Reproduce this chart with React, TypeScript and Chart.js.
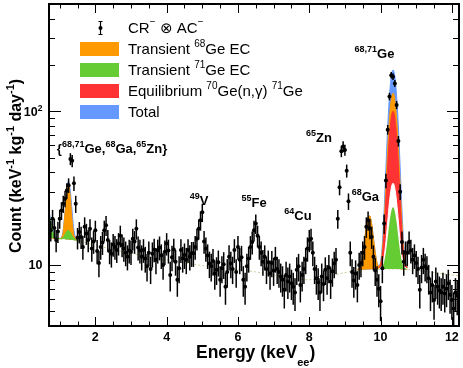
import React, { useEffect, useRef } from "react";
import { Chart, registerables } from "chart.js";

Chart.register(...registerables);

// ---------------- data ----------------
// histogram bins (keV): centre of first bin and bin width
const BIN_START = 0.75;
const BIN_WIDTH = 0.05;

// counts (keV^-1 kg^-1 day^-1), one value per bin, 0.75 ... 12.15 keV
const COUNTS = [
  16.8, 20, 17.4, 14.5, 16.5, 20, 22.6, 25, 27, 30.5,
  33, 49, 47.6, 34, 25, 15, 16.4, 15.2, 13.1, 17.7,
  16, 14.5, 17.2, 12.8, 14.2, 16.8, 12.3, 10.3, 13.1, 14,
  16.8, 18.1, 14.5, 12.3, 11.8, 13.6, 13.1, 12.5, 13.8, 15.5,
  13.5, 12.8, 12, 11.3, 12.4, 12.2, 14.8, 14.2, 17.2, 13,
  12.4, 11.3, 12.5, 11, 9.8, 12, 9.4, 11.8, 12.6, 10.8,
  12.4, 13, 11.5, 10, 12.2, 13.8, 12.4, 8.6, 11.2, 12.6,
  10.5, 8, 9.5, 12.5, 11, 11.6, 10.8, 12.5, 11.3, 11.9,
  11.9, 13.1, 14.8, 17.2, 19.5, 22, 14.2, 12.8, 11.5, 10.2,
  9.8, 10.6, 8.8, 9.3, 10.4, 8, 9.5, 10.1, 7.2, 9,
  11.3, 10.2, 9.4, 12.5, 9, 13.1, 10.8, 11.2, 8, 7.2,
  9.8, 11, 13.1, 14.1, 16.8, 18.6, 15.5, 13.1, 12, 10.5,
  11.3, 9.4, 10.4, 8.8, 10.3, 9.2, 11, 9.4, 9, 8.4,
  8, 6.9, 8.6, 7.8, 8.4, 7.6, 7.2, 6.6, 9.3, 9.8,
  7.4, 8.6, 9.4, 10.8, 12.8, 14.5, 14.8, 12, 9.4, 8.2,
  7.7, 6.6, 8.4, 7.5, 9.3, 8.2, 9.6, 7.8, 9.1, 10.2,
  10.8, 20, 32, 55, 59, 56, 41, 26, 12, 9,
  7.9, 8.8, 7.4, 10, 10.3, 12, 13.1, 17.7, 19.5, 17.3,
  15.2, 11.3, 9.2, 8, 7, 5.8, 9.5, 18.6, 35.4, 76,
  125, 172, 168, 152, 110, 64, 30, 14.1, 10.5, 12,
  12, 14.1, 12.4, 10.8, 11.5, 10.3, 9.4, 6.9, 9.6, 10.8,
  9.8, 9.5, 8.2, 6.6, 7.4, 5.9, 7.8, 7.2, 6.8, 6.6,
  7.2, 6.5, 7.0, 7.6, 6.4, 5.9, 5.2, 6.6, 6.3,
];

// statistical error of each bin
const ERRORS = [
  2.6, 2.8, 2.6, 2.4, 2.6, 2.8, 3.0, 3.2, 3.3, 3.5,
  3.6, 4.4, 4.4, 3.7, 3.2, 2.4, 2.6, 2.5, 2.3, 2.7,
  2.5, 2.4, 2.6, 2.3, 2.4, 2.6, 2.2, 2.0, 2.3, 2.4,
  2.6, 2.7, 2.4, 2.2, 2.2, 2.3, 2.3, 2.2, 2.3, 2.5,
  2.3, 2.3, 2.2, 2.1, 2.2, 2.2, 2.4, 2.4, 2.6, 2.3,
  2.2, 2.1, 2.2, 2.1, 2.0, 2.2, 1.9, 2.2, 2.2, 2.1,
  2.2, 2.3, 2.1, 2.0, 2.2, 2.3, 2.2, 1.9, 2.1, 2.2,
  2.0, 1.8, 1.9, 2.2, 2.1, 2.2, 2.1, 2.2, 2.1, 2.2,
  2.2, 2.3, 2.4, 2.6, 2.8, 3.0, 2.4, 2.3, 2.1, 2.0,
  2.0, 2.1, 1.9, 1.9, 2.0, 1.8, 1.9, 2.0, 1.7, 1.9,
  2.1, 2.0, 1.9, 2.2, 1.9, 2.3, 2.1, 2.1, 1.8, 1.7,
  2.0, 2.1, 2.3, 2.4, 2.6, 2.7, 2.5, 2.3, 2.2, 2.0,
  2.1, 1.9, 2.0, 1.9, 2.0, 1.9, 2.1, 1.9, 1.9, 1.8,
  1.8, 1.7, 1.9, 1.8, 1.8, 1.7, 1.7, 1.6, 1.9, 2.0,
  1.7, 1.9, 1.9, 2.1, 2.3, 2.4, 2.4, 2.2, 1.9, 1.8,
  1.8, 1.6, 1.8, 1.7, 1.9, 1.8, 2.0, 1.8, 1.9, 2.0,
  2.1, 2.8, 3.6, 4.7, 4.9, 4.7, 4.0, 3.2, 2.2, 1.9,
  1.8, 1.9, 1.7, 2.0, 2.0, 2.2, 2.3, 2.7, 2.8, 2.6,
  2.5, 2.1, 1.9, 1.8, 1.7, 1.5, 1.9, 2.7, 3.8, 5.5,
  7.1, 8.3, 8.2, 7.8, 6.6, 5.1, 3.5, 2.4, 2.0, 2.2,
  2.2, 2.4, 2.2, 2.1, 2.1, 2.0, 1.9, 1.7, 2.0, 2.1,
  2.0, 1.9, 1.8, 1.6, 1.7, 1.5, 1.8, 1.7, 1.6, 1.6,
  1.7, 1.6, 1.7, 1.7, 1.6, 1.5, 1.4, 1.6, 1.6,
];

// fitted background (dotted line)
const BG_E = [0.7, 1.0, 1.5, 2.0, 2.5, 3.0, 3.5, 4.0, 4.5, 5.0, 5.5, 6.0, 6.5, 7.0, 7.5, 8.0, 8.5, 9.0, 9.5, 10.0, 10.5, 11.0, 11.5, 12.0, 12.2];
const BG_V = [15.0, 14.8, 14.4, 13.4, 12.6, 11.9, 11.3, 10.8, 10.3, 9.9, 9.6, 9.3, 9.0, 8.6, 8.2, 8.0, 8.4, 8.9, 9.3, 9.4, 9.4, 9.2, 8.9, 8.6, 8.5];

// L-shell region fit curves
const L_E = [0.70, 0.75, 0.80, 0.85, 0.90, 0.95, 1.00, 1.04, 1.09, 1.14, 1.19, 1.24, 1.29, 1.34, 1.39, 1.44, 1.50, 1.55];
const BLUE_L = [22.5, 19.5, 17.2, 15.8, 15.0, 14.9, 14.9, 15.0, 16.4, 21.0, 29.5, 35.0, 31.5, 23.5, 17.5, 15.2, 14.5, 14.3];
const ORANGE_L = [15.0, 15.0, 14.9, 14.9, 14.9, 14.9, 14.8, 14.9, 16.0, 20.5, 28.8, 33.7, 28.8, 20.5, 16.0, 14.9, 14.4, 14.3];
const GREEN_L = [21.5, 18.8, 16.7, 15.5, 14.9, 14.9, 14.8, 14.8, 15.0, 15.6, 16.4, 16.8, 16.4, 15.6, 15.0, 14.6, 14.4, 14.3];

// K-shell region fit curves (68Ga + 68,71Ge)
const K_E = [9.35, 9.40, 9.45, 9.50, 9.55, 9.60, 9.65, 9.70, 9.75, 9.80, 9.85, 9.90, 9.95, 10.00, 10.05, 10.10, 10.15, 10.20, 10.25, 10.30, 10.35, 10.40, 10.45, 10.50, 10.55, 10.60, 10.65, 10.70, 10.75];
const BLUE_K = [9.35, 9.53, 10.1, 11.6, 14.3, 17.8, 20.5, 20.8, 18.5, 15.0, 12.1, 10.4, 9.9, 10.5, 13.7, 22.8, 43.1, 79.2, 126.1, 168.7, 186, 168.7, 126.1, 79.2, 43.1, 22.8, 13.7, 10.5, 9.6];
const ORANGE_K = [9.35, 9.53, 10.1, 11.6, 14.3, 17.8, 20.5, 20.8, 18.5, 15.0, 12.1, 10.3, 9.8, 10.2, 12.4, 18.6, 32.6, 57.4, 89.8, 119.1, 131, 119.1, 89.8, 57.4, 32.6, 18.6, 12.4, 10.2, 9.6];
const KC_E = [9.95, 10.00, 10.05, 10.10, 10.15, 10.20, 10.25, 10.30, 10.35, 10.40, 10.45, 10.50, 10.55, 10.60, 10.65, 10.70, 10.75];
const RED_K = [9.6, 10.0, 11.6, 16.3, 26.7, 45.2, 69.3, 91.1, 100, 91.1, 69.3, 45.2, 26.7, 16.3, 11.6, 10.0, 9.6];
const WHITE_K = [9.4, 9.6, 10.0, 11.3, 14.1, 19.1, 25.7, 31.6, 34.0, 31.6, 25.7, 19.1, 14.1, 11.3, 10.0, 9.6, 9.4];
const GREEN_K = [9.4, 9.5, 9.7, 10.5, 12.1, 15.0, 18.9, 22.3, 23.7, 22.3, 18.9, 15.0, 12.1, 10.5, 9.7, 9.5, 9.4];

// axis ticks
const X_MAJOR = [2, 4, 6, 8, 10, 12];
const X_MINOR = [1, 1.5, 2.5, 3, 3.5, 4.5, 5, 5.5, 6.5, 7, 7.5, 8.5, 9, 9.5, 10.5, 11, 11.5];
const X_LABELS = ["2", "4", "6", "8", "10", "12"];
const Y_MAJOR = [10, 100];
const Y_MINOR = [5, 6, 7, 8, 9, 20, 30, 40, 50, 60, 70, 80, 90, 200, 300, 400];

type Part = { t: string; sup?: boolean; sub?: boolean };

const Y_LABELS: { v: number; parts: Part[] }[] = [
  { v: 10, parts: [{ t: "10" }] },
  { v: 100, parts: [{ t: "10" }, { t: "2", sup: true }] },
];

// peak labels, anchored (left, baseline) in data coordinates
const ANNOTATIONS: { x: number; y: number; parts: Part[] }[] = [
  { x: 0.92, y: 53.6, parts: [{ t: "{" }, { t: "68,71", sup: true }, { t: "Ge," }, { t: "68", sup: true }, { t: "Ga," }, { t: "65", sup: true }, { t: "Zn}" }] },
  { x: 4.65, y: 24.4, parts: [{ t: "49", sup: true }, { t: "V" }] },
  { x: 6.1, y: 24.0, parts: [{ t: "55", sup: true }, { t: "Fe" }] },
  { x: 7.3, y: 19.5, parts: [{ t: "64", sup: true }, { t: "Cu" }] },
  { x: 7.91, y: 63.1, parts: [{ t: "65", sup: true }, { t: "Zn" }] },
  { x: 9.19, y: 25.9, parts: [{ t: "68", sup: true }, { t: "Ga" }] },
  { x: 9.27, y: 223, parts: [{ t: "68,71", sup: true }, { t: "Ge" }] },
];

const ORANGE = "#ff9900";
const GREEN = "#66cc33";
const RED = "#ff3333";
const BLUE = "#6699ff";
const WHITE = "#ffffff";

const LEGEND: { kind: "data" | "fill"; color?: string; parts: Part[] }[] = [
  { kind: "data", parts: [{ t: "CR" }, { t: "\u2212", sup: true }, { t: " \u2297 AC" }, { t: "\u2212", sup: true }] },
  { kind: "fill", color: ORANGE, parts: [{ t: "Transient " }, { t: "68", sup: true }, { t: "Ge EC" }] },
  { kind: "fill", color: GREEN, parts: [{ t: "Transient " }, { t: "71", sup: true }, { t: "Ge EC" }] },
  { kind: "fill", color: RED, parts: [{ t: "Equilibrium " }, { t: "70", sup: true }, { t: "Ge(n,\u03b3) " }, { t: "71", sup: true }, { t: "Ge" }] },
  { kind: "fill", color: BLUE, parts: [{ t: "Total" }] },
];

// ---------------- helpers ----------------
const FAMILY = '"Liberation Sans", Arial, Helvetica, sans-serif';
const fontOf = (size: number, bold: boolean) => `${bold ? "bold " : ""}${size}px ${FAMILY}`;

type RichOpts = { size: number; small: number; bold: boolean; align?: "left" | "right" | "center"; raise: number; drop?: number };

function richWidth(ctx: CanvasRenderingContext2D, parts: Part[], o: RichOpts) {
  let w = 0;
  for (const p of parts) {
    ctx.font = fontOf(p.sup || p.sub ? o.small : o.size, o.bold);
    w += ctx.measureText(p.t).width;
  }
  return w;
}

function drawRich(ctx: CanvasRenderingContext2D, parts: Part[], x: number, y: number, o: RichOpts) {
  const w = richWidth(ctx, parts, o);
  let cx = o.align === "right" ? x - w : o.align === "center" ? x - w / 2 : x;
  ctx.textAlign = "left";
  ctx.textBaseline = "alphabetic";
  for (const p of parts) {
    ctx.font = fontOf(p.sup || p.sub ? o.small : o.size, o.bold);
    const dy = p.sup ? -o.raise : p.sub ? o.drop || 0 : 0;
    ctx.fillText(p.t, cx, y + dy);
    cx += ctx.measureText(p.t).width;
  }
}

const pts = (xs: number[], ys: number[]) => xs.map((x, i) => ({ x, y: ys[i] }));

const errorBarPlugin = {
  id: "errorBars",
  afterDatasetsDraw(chart: any) {
    const { ctx, chartArea: ca, scales } = chart;
    const xs = scales.x, ys = scales.y;
    ctx.save();
    ctx.beginPath();
    ctx.rect(ca.left, ca.top, ca.right - ca.left, ca.bottom - ca.top);
    ctx.clip();
    ctx.strokeStyle = "#000";
    ctx.lineWidth = 1.5;
    COUNTS.forEach((v, i) => {
      const e = ERRORS[i];
      const E = BIN_START + i * BIN_WIDTH;
      const px = xs.getPixelForValue(E);
      const y1 = ys.getPixelForValue(v + e);
      const y2 = ys.getPixelForValue(Math.max(v - e, 0.01));
      ctx.beginPath();
      ctx.moveTo(px, y1);
      ctx.lineTo(px, y2);
      ctx.stroke();
      const xa = xs.getPixelForValue(E - BIN_WIDTH / 2);
      const xb = xs.getPixelForValue(E + BIN_WIDTH / 2);
      const py = ys.getPixelForValue(v);
      ctx.beginPath();
      ctx.moveTo(xa, py);
      ctx.lineTo(xb, py);
      ctx.stroke();
    });
    ctx.restore();
  },
};

const decorPlugin = {
  id: "decor",
  afterDraw(chart: any) {
    const { ctx, chartArea: ca, scales } = chart;
    const xs = scales.x, ys = scales.y;
    ctx.save();
    ctx.fillStyle = "#000";
    ctx.strokeStyle = "#000";

    // peak annotations
    for (const a of ANNOTATIONS) {
      drawRich(ctx, a.parts, xs.getPixelForValue(a.x), ys.getPixelForValue(a.y), { size: 13, small: 9, bold: true, raise: 6 });
    }

    // legend
    const lx0 = 80, lx1 = 119, tx = 128;
    LEGEND.forEach((it, i) => {
      const cy = 28 + 21 * i;
      if (it.kind === "fill") {
        ctx.fillStyle = it.color as string;
        ctx.fillRect(lx0, cy - 7, lx1 - lx0, 14);
      } else {
        const mx = 100;
        ctx.lineWidth = 1.2;
        ctx.beginPath();
        ctx.moveTo(mx + 0.5, cy - 6.5);
        ctx.lineTo(mx + 0.5, cy + 6.5);
        ctx.moveTo(mx - 1.5, cy - 6.5);
        ctx.lineTo(mx + 2.5, cy - 6.5);
        ctx.moveTo(mx - 1.5, cy + 6.5);
        ctx.lineTo(mx + 2.5, cy + 6.5);
        ctx.stroke();
        ctx.beginPath();
        ctx.arc(mx + 0.5, cy, 2, 0, Math.PI * 2);
        ctx.fill();
      }
      ctx.fillStyle = "#000";
      drawRich(ctx, it.parts, tx, cy + 5.4, { size: 15, small: 10, bold: false, raise: it.kind === "data" ? 8.5 : 7 });
    });

    // ticks (inside the frame, mirrored)
    ctx.lineWidth = 1;
    ctx.beginPath();
    const xt = (v: number, len: number) => {
      const px = Math.round(xs.getPixelForValue(v)) + 0.5;
      ctx.moveTo(px, ca.bottom);
      ctx.lineTo(px, ca.bottom - len);
      ctx.moveTo(px, ca.top);
      ctx.lineTo(px, ca.top + len);
    };
    X_MAJOR.forEach((v) => xt(v, 9));
    X_MINOR.forEach((v) => xt(v, 4.5));
    const yt = (v: number, len: number) => {
      const py = Math.round(ys.getPixelForValue(v)) + 0.5;
      ctx.moveTo(ca.left, py);
      ctx.lineTo(ca.left + len, py);
      ctx.moveTo(ca.right, py);
      ctx.lineTo(ca.right - len, py);
    };
    Y_MAJOR.forEach((v) => yt(v, 12));
    Y_MINOR.forEach((v) => yt(v, 6));
    ctx.stroke();

    // frame
    ctx.lineWidth = 2;
    ctx.strokeRect(ca.left, ca.top, ca.right - ca.left, ca.bottom - ca.top);

    // tick labels
    ctx.fillStyle = "#000";
    ctx.font = fontOf(12.5, true);
    ctx.textAlign = "center";
    ctx.textBaseline = "alphabetic";
    X_MAJOR.forEach((v, i) => ctx.fillText(X_LABELS[i], xs.getPixelForValue(v), 341));
    Y_LABELS.forEach((l) => {
      drawRich(ctx, l.parts, 42.5, ys.getPixelForValue(l.v) + 4.5, { size: 12.5, small: 8.5, bold: true, align: "right", raise: 5 });
    });

    // axis titles
    drawRich(ctx, [{ t: "Energy (keV" }, { t: "ee", sub: true }, { t: ")" }], 196, 358, { size: 17.5, small: 11, bold: true, raise: 0, drop: 8 });
    ctx.save();
    ctx.translate(20.5, 166);
    ctx.rotate(-Math.PI / 2);
    drawRich(
      ctx,
      [{ t: "Count (keV" }, { t: "-1", sup: true }, { t: " kg" }, { t: "-1", sup: true }, { t: " day" }, { t: "-1", sup: true }, { t: ")" }],
      0,
      0,
      { size: 16, small: 11, bold: true, align: "center", raise: 6.5 }
    );
    ctx.restore();
    ctx.restore();
  },
};

export default function App() {
  const ref = useRef<HTMLCanvasElement | null>(null);

  useEffect(() => {
    document.body.style.margin = "0";
    const canvas = ref.current;
    if (!canvas) return;

    const GAP = { x: 5, y: null as any };
    const band = (color: string, data: any[], order: number, target: number) => ({
      type: "line" as const,
      data,
      order,
      borderColor: color,
      backgroundColor: color,
      borderWidth: 1,
      pointRadius: 0,
      fill: { target, above: color, below: color },
      spanGaps: false,
      cubicInterpolationMode: "monotone" as const,
    });

    // dataset indices: 0 points, 1 green, 2 white, 3 red, 4 orange, 5 blue, 6 background
    const chart = new Chart(canvas, {
      type: "line",
      data: {
        datasets: [
          {
            type: "line",
            order: 0,
            data: COUNTS.map((v, i) => ({ x: BIN_START + i * BIN_WIDTH, y: v })),
            showLine: false,
            pointRadius: 2,
            pointBorderWidth: 0,
            pointBackgroundColor: "#000",
            pointBorderColor: "#000",
            fill: false,
          },
          band(GREEN, [...pts(L_E, GREEN_L), GAP, ...pts(KC_E, GREEN_K)], 2, 6),
          band(WHITE, pts(KC_E, WHITE_K), 1, 1),
          band(RED, pts(KC_E, RED_K), 3, 6),
          band(ORANGE, [...pts(L_E, ORANGE_L), GAP, ...pts(K_E, ORANGE_K)], 4, 6),
          band(BLUE, [...pts(L_E, BLUE_L), GAP, ...pts(K_E, BLUE_K)], 5, 6),
          {
            type: "line",
            order: 6,
            data: pts(BG_E, BG_V),
            borderColor: "rgba(200,198,140,0.9)",
            borderWidth: 1,
            borderDash: [2, 2],
            pointRadius: 0,
            fill: false,
            cubicInterpolationMode: "monotone",
          },
        ],
      },
      options: {
        responsive: false,
        animation: false,
        layout: { padding: { top: 2, right: 1, left: 0, bottom: 0 } },
        scales: {
          x: {
            type: "linear",
            min: 0.7,
            max: 12.2,
            ticks: { display: false },
            grid: { display: false },
            border: { display: false },
            afterFit: (s: any) => {
              s.height = 42;
            },
          },
          y: {
            type: "logarithmic",
            min: 4,
            max: 500,
            ticks: { display: false },
            grid: { display: false },
            border: { display: false },
            afterFit: (s: any) => {
              s.width = 49;
            },
          },
        },
        plugins: {
          legend: { display: false },
          tooltip: { enabled: false },
          title: { display: false },
          colors: { enabled: false },
          filler: { propagate: false, drawTime: "beforeDatasetDraw" },
        },
      } as any,
      plugins: [errorBarPlugin, decorPlugin],
    });

    return () => chart.destroy();
  }, []);

  return <canvas ref={ref} width={463} height={368} style={{ display: "block" }} />;
}
